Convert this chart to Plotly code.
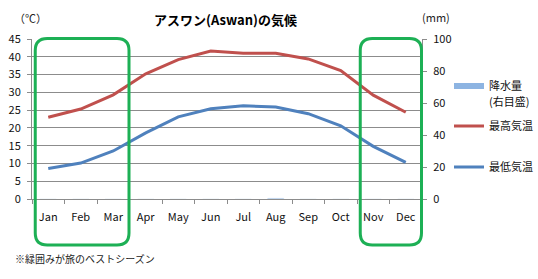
import plotly.graph_objects as go

months = ["Jan", "Feb", "Mar", "Apr", "May", "Jun", "Jul", "Aug", "Sep", "Oct", "Nov", "Dec"]
high_temp = [23.0, 25.3, 29.3, 35.2, 39.2, 41.6, 41.0, 41.0, 39.4, 36.1, 29.2, 24.4]
low_temp = [8.6, 10.1, 13.5, 18.6, 23.1, 25.4, 26.2, 25.9, 24.0, 20.6, 14.8, 10.3]
precip = [0, 0, 0, 0, 0, 0, 0, 0.5, 0, 0, 0, 0]
best_seasons = [(0, 2), (10, 11)]

W, H = 538, 279
L, R, T, B = 32, 116, 39, 80
pw = W - L - R
ph = H - T - B

FONT = "Noto Sans CJK JP, Noto Sans, sans-serif"
GRID = "#8c8c8c"

fig = go.Figure()
fig.add_trace(go.Bar(x=months, y=precip, yaxis="y2", marker_color="#8DB4E2",
                     showlegend=False, width=0.5))
fig.add_trace(go.Scatter(x=[None], y=[None], mode="lines", name="降水量",
                         line=dict(color="#8DB4E2", width=6), legend="legend"))
fig.add_trace(go.Scatter(x=months, y=high_temp, mode="lines", name="最高気温",
                         line=dict(color="#C0504D", width=3), legend="legend2"))
fig.add_trace(go.Scatter(x=months, y=low_temp, mode="lines", name="最低気温",
                         line=dict(color="#4F81BD", width=3), legend="legend3"))

def px2paper(px, py):
    return (px - L) / pw, (H - B - py) / ph

shapes = []
n = len(months)
cw = pw / n
for a, b in best_seasons:
    x0 = L + (a + 0.1) * cw
    x1 = L + (b + 1.0) * cw - 0.5
    y0, y1 = 38.5, 245
    r = 12
    def P(x, y):
        xx, yy = px2paper(x, y)
        return f"{xx:.5f},{yy:.5f}"
    path = (f"M {P(x0, y0 + r)} Q {P(x0, y0)} {P(x0 + r, y0)} L {P(x1 - r, y0)} "
            f"Q {P(x1, y0)} {P(x1, y0 + r)} L {P(x1, y1 - r)} Q {P(x1, y1)} {P(x1 - r, y1)} "
            f"L {P(x0 + r, y1)} Q {P(x0, y1)} {P(x0, y1 - r)} Z")
    shapes.append(dict(type="path", path=path, xref="paper", yref="paper",
                       line=dict(color="#1DB055", width=3), layer="above"))

def leg(py, px=449):
    xx, yy = px2paper(px, py)
    return dict(x=xx, y=yy, xanchor="left", yanchor="middle", bgcolor="rgba(0,0,0,0)",
                font=dict(family=FONT, size=11, color="#111"), itemwidth=30,
                tracegroupgap=0)

def ann(text, px, py, anchor="center", size=11, color="#222"):
    xx, yy = px2paper(px, py)
    return dict(text=text, x=xx, y=yy, xref="paper", yref="paper", showarrow=False,
                xanchor=anchor, yanchor="middle", font=dict(family=FONT, size=size, color=color))

annotations = [
    ann("<b>アスワン(Aswan)の気候</b>", 225, 19, size=13, color="#000"),
    ann("（℃）", 30, 18),
    ann("(mm)", 436, 17),
    ann("(右目盛)", 487, 101, anchor="left", color="#111"),
    ann("※緑囲みが旅のベストシーズン", 13, 258, anchor="left", size=10),
]

fig.update_layout(
    width=W, height=H, margin=dict(l=L, r=R, t=T, b=B, pad=0, autoexpand=False),
    paper_bgcolor="white", plot_bgcolor="white",
    font=dict(family=FONT, size=11, color="#111"),
    xaxis=dict(type="category", showgrid=False, showline=True, linecolor=GRID, linewidth=1,
               ticks="outside", tickson="boundaries", ticklen=4, tickcolor=GRID,
               ticklabelstandoff=8, tickfont=dict(size=11, color="#111"), range=[-0.5, 11.5]),
    yaxis=dict(range=[0, 45], dtick=5, showgrid=True, gridcolor=GRID, gridwidth=1,
               showline=True, linecolor=GRID, ticks="outside", ticklen=4, tickcolor=GRID,
               zeroline=False, ticklabelstandoff=4, tickfont=dict(size=11, color="#111")),
    yaxis2=dict(range=[0, 100], dtick=20, overlaying="y", side="right", showgrid=False,
                showline=True, linecolor=GRID, ticks="outside", ticklen=4, tickcolor=GRID,
                zeroline=False, ticklabelstandoff=4, tickfont=dict(size=11, color="#111")),
    legend=leg(86),
    legend2=leg(126),
    legend3=leg(167),
    shapes=shapes,
    annotations=annotations,
)

fig.write_html("out.html")
